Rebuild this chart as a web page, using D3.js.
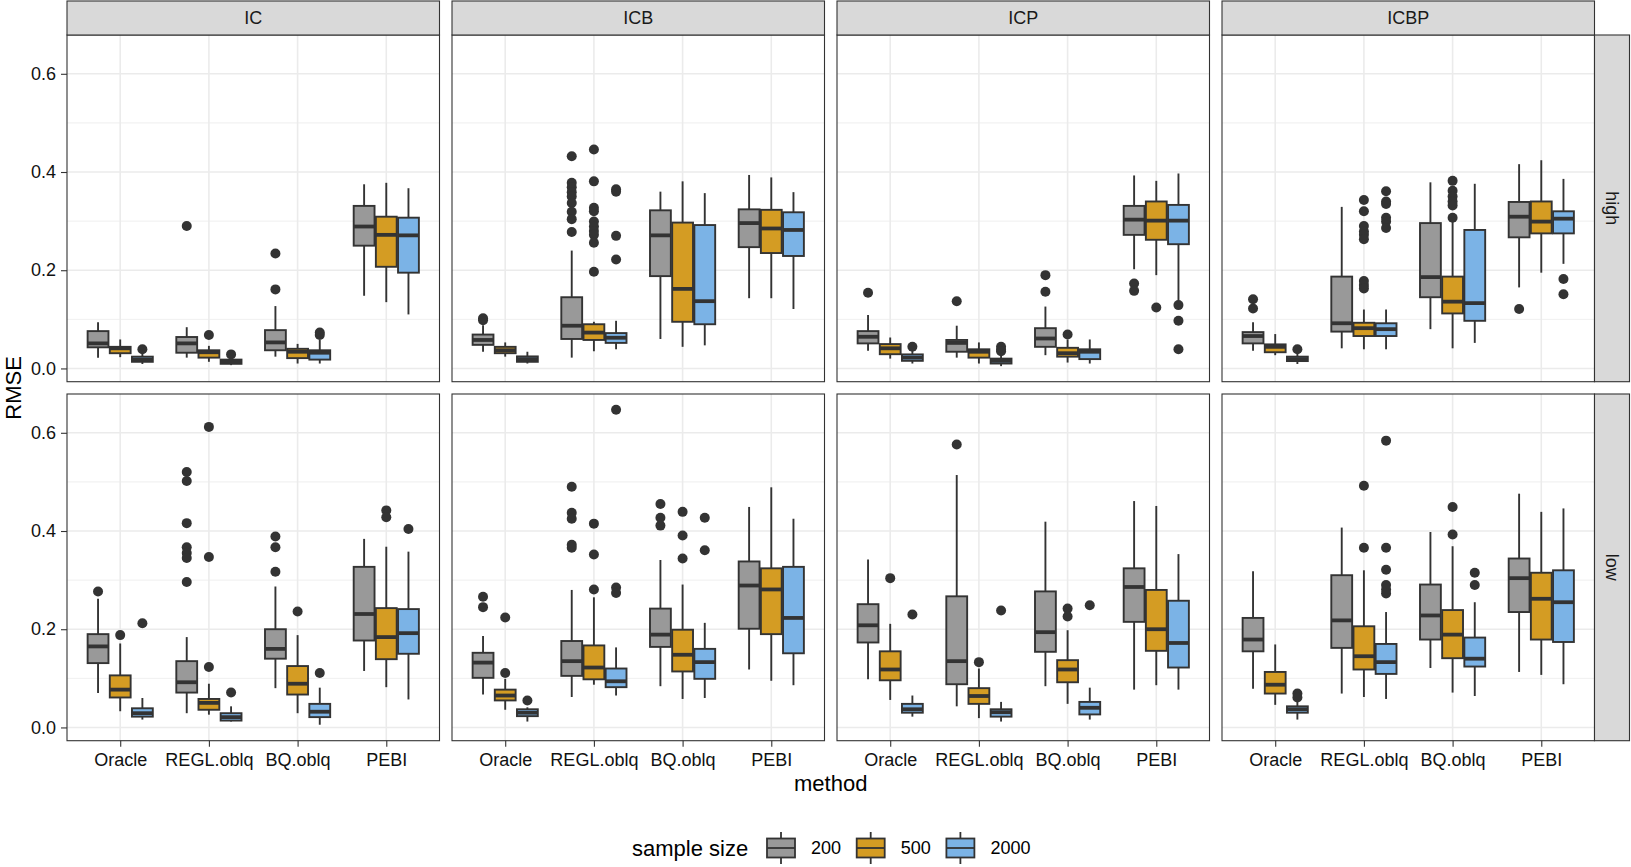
<!DOCTYPE html>
<html>
<head>
<meta charset="utf-8">
<script src="https://cdn.jsdelivr.net/npm/d3@7"></script>
<style>
  body { margin: 0; background: #fff; }
  text { font-family: "Liberation Sans", Arial, Helvetica, sans-serif; }
</style>
</head>
<body>
<div id="chart"></div>
<script>
// Categories
const methods = ["Oracle", "REGL.oblq", "BQ.oblq", "PEBI"];
const sizes = ["200", "500", "2000"];
const structures = ["IC", "ICB", "ICP", "ICBP"];
const levels = ["high", "low"];
const sizeColors = ["#999999", "#D49C23", "#7BB3E6"];
const yTicks = [0, 0.2, 0.4, 0.6];
const yMinor = [0.1, 0.3, 0.5];

// Box stats: [whisker low, q1, median, q3, whisker high]
// rows: Oracle 200/500/2000, REGL.oblq 200/500/2000, BQ.oblq ..., PEBI ...
const IC_high = [
  [0.022, 0.043, 0.051, 0.076, 0.094], [0.023, 0.031, 0.041, 0.044, 0.059], [0.009, 0.0135, 0.018, 0.024, 0.030],
  [0.022, 0.032, 0.051, 0.064, 0.084], [0.0135, 0.022, 0.033, 0.037, 0.046], [0.0067, 0.0094, 0.0135, 0.018, 0.022],
  [0.024, 0.037, 0.053, 0.078, 0.127], [0.010, 0.021, 0.034, 0.040, 0.050], [0.010, 0.018, 0.032, 0.037, 0.058],
  [0.148, 0.250, 0.289, 0.331, 0.375], [0.135, 0.207, 0.272, 0.309, 0.378], [0.110, 0.195, 0.271, 0.307, 0.367]
];
const IC_high_out = [[], [], [0.039], [0.290], [0.068], [0.0286], [0.234, 0.161], [], [0.068, 0.073], [], [], []];

const IC_low = [
  [0.070, 0.131, 0.165, 0.190, 0.262], [0.033, 0.061, 0.077, 0.106, 0.171], [0.016, 0.022, 0.029, 0.039, 0.060],
  [0.029, 0.071, 0.092, 0.135, 0.184], [0.026, 0.036, 0.050, 0.058, 0.089], [0.012, 0.014, 0.021, 0.029, 0.043],
  [0.080, 0.140, 0.160, 0.200, 0.287], [0.029, 0.067, 0.089, 0.125, 0.188], [0.0055, 0.021, 0.032, 0.048, 0.081],
  [0.115, 0.177, 0.231, 0.327, 0.384], [0.082, 0.139, 0.184, 0.243, 0.368], [0.057, 0.150, 0.192, 0.241, 0.358]
];
const IC_low_out = [[0.277], [0.188], [0.212], [0.520, 0.502, 0.416, 0.367, 0.355, 0.345, 0.296], [0.612, 0.347, 0.123], [0.071],
  [0.389, 0.367, 0.317], [0.236], [0.111], [], [0.442, 0.428], [0.404]];

const ICB_high = [
  [0.034, 0.048, 0.058, 0.069, 0.088], [0.024, 0.031, 0.037, 0.044, 0.053], [0.010, 0.0135, 0.019, 0.0245, 0.034],
  [0.022, 0.060, 0.087, 0.145, 0.240], [0.035, 0.058, 0.073, 0.090, 0.095], [0.039, 0.052, 0.0625, 0.072, 0.097],
  [0.060, 0.188, 0.271, 0.322, 0.360], [0.044, 0.095, 0.162, 0.297, 0.381], [0.047, 0.090, 0.137, 0.292, 0.357],
  [0.143, 0.247, 0.296, 0.324, 0.394], [0.143, 0.235, 0.285, 0.323, 0.389], [0.121, 0.229, 0.282, 0.318, 0.359]
];
const ICB_high_out = [[0.098, 0.102], [], [], [0.432, 0.378, 0.369, 0.359, 0.350, 0.337, 0.319, 0.304, 0.278],
  [0.446, 0.381, 0.327, 0.320, 0.299, 0.289, 0.280, 0.272, 0.256, 0.197], [0.365, 0.360, 0.270, 0.222],
  [], [], [], [], [], []];

const ICB_low = [
  [0.067, 0.101, 0.132, 0.152, 0.186], [0.036, 0.055, 0.065, 0.077, 0.099], [0.012, 0.023, 0.030, 0.037, 0.041],
  [0.062, 0.105, 0.135, 0.176, 0.280], [0.087, 0.098, 0.122, 0.167, 0.265], [0.065, 0.082, 0.094, 0.120, 0.163],
  [0.084, 0.164, 0.189, 0.242, 0.341], [0.058, 0.114, 0.148, 0.199, 0.291], [0.060, 0.099, 0.133, 0.160, 0.213],
  [0.118, 0.201, 0.289, 0.338, 0.449], [0.095, 0.190, 0.281, 0.324, 0.489], [0.086, 0.151, 0.223, 0.327, 0.425]
];
const ICB_low_out = [[0.266, 0.245], [0.224, 0.111], [0.055], [0.490, 0.437, 0.425, 0.372, 0.366], [0.415, 0.352, 0.281],
  [0.647, 0.285, 0.274], [0.455, 0.427, 0.411], [0.439, 0.391, 0.344], [0.427, 0.361], [], [], []];

const ICP_high = [
  [0.036, 0.051, 0.0645, 0.076, 0.109], [0.020, 0.029, 0.041, 0.0496, 0.063], [0.010, 0.0155, 0.022, 0.0286, 0.037],
  [0.022, 0.034, 0.052, 0.058, 0.087], [0.010, 0.022, 0.034, 0.039, 0.053], [0.0047, 0.010, 0.0155, 0.020, 0.027],
  [0.027, 0.044, 0.061, 0.082, 0.126], [0.012, 0.024, 0.031, 0.042, 0.059], [0.010, 0.019, 0.034, 0.039, 0.059],
  [0.202, 0.272, 0.303, 0.331, 0.393], [0.190, 0.262, 0.301, 0.340, 0.382], [0.136, 0.253, 0.301, 0.333, 0.397]
];
const ICP_high_out = [[0.154], [], [0.044], [0.137], [], [0.044, 0.038, 0.035], [0.190, 0.156], [0.069], [],
  [0.173, 0.158], [0.124], [0.129, 0.097, 0.039]];

const ICP_low = [
  [0.098, 0.173, 0.208, 0.251, 0.342], [0.056, 0.096, 0.118, 0.155, 0.211], [0.022, 0.030, 0.037, 0.048, 0.065],
  [0.043, 0.088, 0.135, 0.267, 0.514], [0.019, 0.048, 0.064, 0.080, 0.120], [0.012, 0.022, 0.031, 0.037, 0.052],
  [0.084, 0.154, 0.194, 0.277, 0.419], [0.048, 0.092, 0.118, 0.137, 0.198], [0.016, 0.0265, 0.040, 0.052, 0.081],
  [0.077, 0.215, 0.286, 0.324, 0.461], [0.086, 0.156, 0.200, 0.280, 0.451], [0.077, 0.122, 0.172, 0.258, 0.353]
];
const ICP_low_out = [[], [0.304], [0.230], [0.576], [0.133], [0.238], [], [0.242, 0.226], [0.249], [], [], []];

const ICBP_high = [
  [0.036, 0.051, 0.066, 0.074, 0.094], [0.027, 0.033, 0.044, 0.049, 0.070], [0.009, 0.015, 0.019, 0.024, 0.030],
  [0.041, 0.075, 0.092, 0.187, 0.329], [0.039, 0.066, 0.082, 0.093, 0.120], [0.039, 0.066, 0.080, 0.092, 0.120],
  [0.080, 0.145, 0.186, 0.296, 0.379], [0.041, 0.112, 0.136, 0.187, 0.300], [0.052, 0.097, 0.133, 0.282, 0.376],
  [0.165, 0.267, 0.309, 0.339, 0.416], [0.195, 0.275, 0.299, 0.340, 0.424], [0.213, 0.275, 0.305, 0.320, 0.386]
];
const ICBP_high_out = [[0.141, 0.122], [], [0.039], [], [0.343, 0.320, 0.290, 0.279, 0.272, 0.263, 0.178, 0.170, 0.163],
  [0.361, 0.340, 0.335, 0.307, 0.299, 0.286], [], [0.382, 0.362, 0.350, 0.340, 0.332, 0.307], [],
  [0.121], [], [0.182, 0.151]];

const ICBP_low = [
  [0.079, 0.155, 0.179, 0.223, 0.318], [0.046, 0.069, 0.087, 0.113, 0.169], [0.016, 0.030, 0.037, 0.043, 0.053],
  [0.069, 0.162, 0.218, 0.310, 0.407], [0.062, 0.118, 0.145, 0.206, 0.320], [0.058, 0.109, 0.133, 0.170, 0.235],
  [0.121, 0.179, 0.228, 0.291, 0.398], [0.071, 0.141, 0.189, 0.239, 0.369], [0.064, 0.124, 0.140, 0.183, 0.255],
  [0.113, 0.235, 0.304, 0.344, 0.476], [0.107, 0.179, 0.262, 0.315, 0.439], [0.088, 0.174, 0.255, 0.320, 0.446]
];
const ICBP_low_out = [[], [], [0.069, 0.061], [], [0.492, 0.366], [0.584, 0.366, 0.321, 0.290, 0.281, 0.273],
  [], [0.449, 0.393], [0.315, 0.290], [], [], []];

// Lookup table built from the arrays above
const statsTable = {
  IC_high: [IC_high, IC_high_out], IC_low: [IC_low, IC_low_out],
  ICB_high: [ICB_high, ICB_high_out], ICB_low: [ICB_low, ICB_low_out],
  ICP_high: [ICP_high, ICP_high_out], ICP_low: [ICP_low, ICP_low_out],
  ICBP_high: [ICBP_high, ICBP_high_out], ICBP_low: [ICBP_low, ICBP_low_out]
};

const W = 1631, H = 867;
const panel = {left: 67, step: 385, width: 372.5, height: 346.7, tops: [35, 394]};
const stripH = 34, stripW = 35;
const lineCol = "#333333";

const svg = d3.select("#chart").append("svg")
    .attr("width", W)
    .attr("height", H);

const x = d3.scalePoint().domain(methods).range([0, panel.width]).padding(0.6);
const dodge = d3.scalePoint().domain(sizes).range([-1, 1]);
const offset = x.step() * 0.25;
const boxW = x.step() * 0.235;
const y = d3.scaleLinear().domain([-0.027, 0.679]).range([panel.height, 0]);
const color = d3.scaleOrdinal().domain(sizes).range(sizeColors);

levels.forEach((level, r) => {
    structures.forEach((st, c) => {
        const g = svg.append("g")
            .attr("transform", `translate(${panel.left + c * panel.step},${panel.tops[r]})`);

        g.append("rect")
            .attr("width", panel.width)
            .attr("height", panel.height)
            .attr("fill", "#fff");

        // grid
        g.selectAll(".minor").data(yMinor).enter().append("line")
            .attr("x1", 0).attr("x2", panel.width)
            .attr("y1", d => y(d)).attr("y2", d => y(d))
            .attr("stroke", "#EBEBEB").attr("stroke-width", 0.8);
        g.selectAll(".major").data(yTicks).enter().append("line")
            .attr("x1", 0).attr("x2", panel.width)
            .attr("y1", d => y(d)).attr("y2", d => y(d))
            .attr("stroke", "#EBEBEB").attr("stroke-width", 1.6);
        g.selectAll(".vgrid").data(methods).enter().append("line")
            .attr("x1", d => x(d)).attr("x2", d => x(d))
            .attr("y1", 0).attr("y2", panel.height)
            .attr("stroke", "#EBEBEB").attr("stroke-width", 1.6);

        const [stats, outs] = statsTable[`${st}_${level}`];
        const rows = stats.map((s, i) => ({
            method: methods[Math.floor(i / 3)],
            size: sizes[i % 3],
            lo: s[0], q1: s[1], med: s[2], q3: s[3], hi: s[4],
            out: outs[i]
        }));

        rows.forEach(d => {
            const cx = x(d.method) + dodge(d.size) * offset;
            const b = g.append("g");

            b.append("line")
                .attr("x1", cx).attr("x2", cx)
                .attr("y1", y(d.hi)).attr("y2", y(d.q3))
                .attr("stroke", lineCol).attr("stroke-width", 1.9);
            b.append("line")
                .attr("x1", cx).attr("x2", cx)
                .attr("y1", y(d.q1)).attr("y2", y(d.lo))
                .attr("stroke", lineCol).attr("stroke-width", 1.9);

            b.append("rect")
                .attr("x", cx - boxW / 2)
                .attr("width", boxW)
                .attr("y", y(d.q3))
                .attr("height", y(d.q1) - y(d.q3))
                .attr("fill", color(d.size))
                .attr("stroke", lineCol)
                .attr("stroke-width", 1.9);

            b.append("line")
                .attr("x1", cx - boxW / 2).attr("x2", cx + boxW / 2)
                .attr("y1", y(d.med)).attr("y2", y(d.med))
                .attr("stroke", lineCol).attr("stroke-width", 3.8);

            b.selectAll("circle").data(d.out).enter().append("circle")
                .attr("cx", cx)
                .attr("cy", v => y(v))
                .attr("r", 5)
                .attr("fill", lineCol);
        });

        g.append("rect")
            .attr("width", panel.width)
            .attr("height", panel.height)
            .attr("fill", "none")
            .attr("stroke", lineCol)
            .attr("stroke-width", 1.1);

        // y axis on the first column
        if (c === 0) {
            const ya = g.append("g")
                .call(d3.axisLeft(y).tickValues(yTicks).tickFormat(d3.format(".1f")).tickSize(6).tickPadding(5));
            ya.select(".domain").remove();
            ya.selectAll("line").attr("stroke", lineCol).attr("stroke-width", 1.1);
            ya.selectAll("text").attr("fill", "#111").style("font-size", "18px");
        }
        // x axis on the bottom row
        if (r === levels.length - 1) {
            const xa = g.append("g")
                .attr("transform", `translate(0,${panel.height})`)
                .call(d3.axisBottom(x).tickSize(6).tickPadding(6.5));
            xa.select(".domain").remove();
            xa.selectAll("line").attr("stroke", lineCol).attr("stroke-width", 1.1);
            xa.selectAll("text").attr("fill", "#111").style("font-size", "18px");
        }
    });
});

// top strips
structures.forEach((st, c) => {
    const sx = panel.left + c * panel.step;
    svg.append("rect")
        .attr("x", sx).attr("y", panel.tops[0] - stripH)
        .attr("width", panel.width).attr("height", stripH)
        .attr("fill", "#D9D9D9").attr("stroke", lineCol).attr("stroke-width", 1.1);
    svg.append("text")
        .attr("x", sx + panel.width / 2)
        .attr("y", panel.tops[0] - stripH / 2)
        .attr("dy", "0.35em")
        .attr("text-anchor", "middle")
        .attr("fill", "#1a1a1a")
        .style("font-size", "18px")
        .text(st);
});

// right strips
const stripX = panel.left + 3 * panel.step + panel.width;
levels.forEach((level, r) => {
    svg.append("rect")
        .attr("x", stripX).attr("y", panel.tops[r])
        .attr("width", stripW).attr("height", panel.height)
        .attr("fill", "#D9D9D9").attr("stroke", lineCol).attr("stroke-width", 1.1);
    svg.append("text")
        .attr("transform", `translate(${stripX + stripW / 2},${panel.tops[r] + panel.height / 2}) rotate(90)`)
        .attr("dy", "0.35em")
        .attr("text-anchor", "middle")
        .attr("fill", "#1a1a1a")
        .style("font-size", "18px")
        .text(level);
});

// axis titles
const plotMid = (panel.left + stripX) / 2;
svg.append("text")
    .attr("x", plotMid)
    .attr("y", 791)
    .attr("text-anchor", "middle")
    .style("font-size", "22px")
    .text("method");

svg.append("text")
    .attr("transform", `translate(21,${(panel.tops[0] - stripH + panel.tops[1] + panel.height) / 2 + 17}) rotate(-90)`)
    .attr("text-anchor", "middle")
    .style("font-size", "22px")
    .text("RMSE");

// legend
const legend = svg.append("g").attr("transform", "translate(632,848)");
legend.append("text")
    .attr("x", 0)
    .attr("dy", "0.35em")
    .style("font-size", "22px")
    .text("sample size");

sizes.forEach((s, i) => {
    const lx = 135 + i * 89.7;
    const key = legend.append("g").attr("transform", `translate(${lx},0)`);
    key.append("line")
        .attr("x1", 14).attr("x2", 14).attr("y1", -16).attr("y2", 16)
        .attr("stroke", lineCol).attr("stroke-width", 1.8);
    key.append("rect")
        .attr("x", 0).attr("y", -9.5)
        .attr("width", 28).attr("height", 19)
        .attr("fill", color(s))
        .attr("stroke", lineCol).attr("stroke-width", 1.8);
    key.append("line")
        .attr("x1", 0).attr("x2", 28).attr("y1", 0).attr("y2", 0)
        .attr("stroke", lineCol).attr("stroke-width", 1.8);
    key.append("text")
        .attr("x", 44)
        .attr("dy", "0.35em")
        .style("font-size", "18px")
        .text(s);
});
</script>
</body>
</html>
